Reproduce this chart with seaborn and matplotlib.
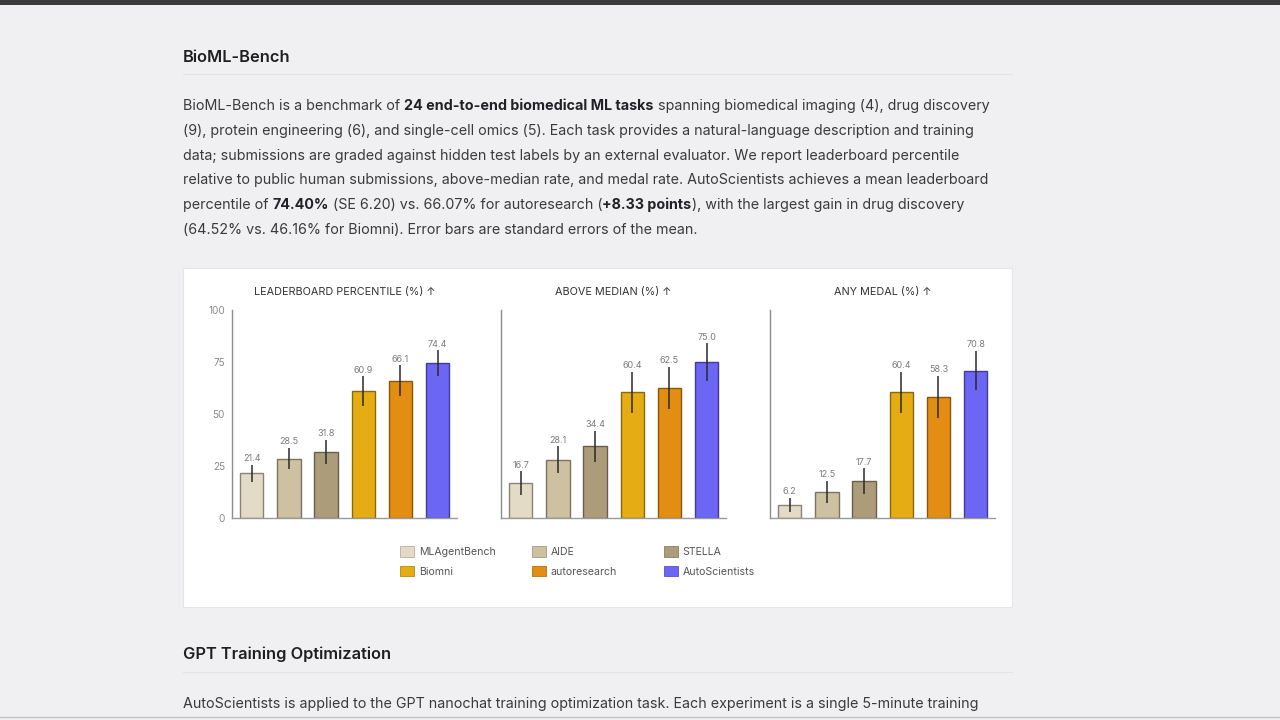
import numpy as np
import pandas as pd
import seaborn as sns
import matplotlib.pyplot as plt
from matplotlib.patches import Patch, Rectangle
from matplotlib.font_manager import FontProperties
from matplotlib.colors import to_rgb

# Data
methods = ["MLAgentBench", "AIDE", "STELLA", "Biomni", "autoresearch", "AutoScientists"]
colors = ["#e3dbc6", "#cdc1a2", "#ad9c7a", "#e5ad13", "#e38d13", "#6b66f4"]

leaderboard = [21.4, 28.5, 31.8, 60.9, 66.1, 74.4]
leaderboard_se = [4.3, 5.1, 5.9, 7.2, 7.3, 6.2]
above_median = [16.7, 28.1, 34.4, 60.4, 62.5, 75.0]
above_median_se = [5.7, 6.4, 7.4, 10.0, 10.1, 9.0]
any_medal = [6.2, 12.5, 17.7, 60.4, 58.3, 70.8]
any_medal_se = [3.5, 5.3, 6.1, 9.9, 10.2, 9.5]

panel_titles = ["LEADERBOARD PERCENTILE (%) \u2191", "ABOVE MEDIAN (%) \u2191", "ANY MEDAL (%) \u2191"]
y_ticks = [0, 25, 50, 75, 100]

heading_1 = "BioML-Bench"
paragraph_1 = [
    [("BioML-Bench is a benchmark of ", False), ("24 end-to-end biomedical ML tasks", True),
     (" spanning biomedical imaging (4), drug discovery", False)],
    [("(9), protein engineering (6), and single-cell omics (5). Each task provides a natural-language description and training", False)],
    [("data; submissions are graded against hidden test labels by an external evaluator. We report leaderboard percentile", False)],
    [("relative to public human submissions, above-median rate, and medal rate. AutoScientists achieves a mean leaderboard", False)],
    [("percentile of ", False), ("74.40%", True), (" (SE 6.20) vs. 66.07% for autoresearch (", False),
     ("+8.33 points", True), ("), with the largest gain in drug discovery", False)],
    [("(64.52% vs. 46.16% for Biomni). Error bars are standard errors of the mean.", False)],
]
heading_2 = "GPT Training Optimization"
paragraph_2 = [
    [("AutoScientists is applied to the GPT nanochat training optimization task. Each experiment is a single 5-minute training", False)],
]

metrics = {
    panel_titles[0]: (leaderboard, leaderboard_se),
    panel_titles[1]: (above_median, above_median_se),
    panel_titles[2]: (any_medal, any_medal_se),
}
rows = []
for title, (vals, ses) in metrics.items():
    for m, v, s in zip(methods, vals, ses):
        rows.append({"metric": title, "method": m, "value": v, "se": s})
df = pd.DataFrame(rows)

W, H = 1280, 720
FONT = ["Inter", "DejaVu Sans"]
plt.rcParams["font.family"] = FONT


def fx(x):
    return x / W


def fy(y):
    return 1 - y / H


def darker(c, f=0.6):
    r, g, b = to_rgb(c)
    return (r * f, g * f, b * f)


fig = plt.figure(figsize=(12.8, 7.2), dpi=100)
fig.patch.set_facecolor("#f0f0f2")

# top browser bar, white card and page rules (kept behind the axes)
fig.patches.append(Rectangle((0, fy(5)), 1, 5 / H, transform=fig.transFigure,
                             facecolor="#3c3c3c", edgecolor="none", zorder=-2))
fig.patches.append(Rectangle((fx(183), fy(607)), 829 / W, 339 / H, transform=fig.transFigure,
                             facecolor="white", edgecolor="#e6e6e9", linewidth=0.8, zorder=-2))
for yy in [74, 672]:
    fig.add_artist(plt.Line2D([fx(183), fx(1012)], [fy(yy), fy(yy)], color="#e4e4e7",
                              linewidth=0.8, zorder=-1))
fig.add_artist(plt.Line2D([0, 1], [fy(717), fy(717)], color="#c2c2c6", linewidth=1, zorder=-1))

renderer = fig.canvas.get_renderer()


def text_width(s, fp):
    w1, _, _ = renderer.get_text_width_height_descent("x" + s + "x", fp, ismath=False)
    w2, _, _ = renderer.get_text_width_height_descent("xx", fp, ismath=False)
    return w1 - w2


def draw_runs(x, y, runs, size, color="#3a3a3c", bold_color="#222226"):
    for s, bold in runs:
        fp = FontProperties(family=FONT, size=size, weight="bold" if bold else "normal")
        fig.text(fx(x), fy(y), s, fontproperties=fp, color=bold_color if bold else color,
                 va="baseline", ha="left")
        x += text_width(s, fp)


# headings and paragraphs
fig.text(fx(183), fy(62), heading_1, fontsize=11.8, fontweight="semibold", color="#1f1f22", va="baseline")
for i, runs in enumerate(paragraph_1):
    draw_runs(183, 110 + i * 24.8, runs, 10.3)
fig.text(fx(183), fy(659), heading_2, fontsize=11.8, fontweight="semibold", color="#1f1f22", va="baseline")
for i, runs in enumerate(paragraph_2):
    draw_runs(183, 708 + i * 24.8, runs, 10.3)

# chart panels
lefts = [232, 501, 770]
for k, title in enumerate(panel_titles):
    ax = fig.add_axes([fx(lefts[k]), fy(518), 225 / W, 208 / H])
    ax.set_facecolor("none")
    sub = df[df["metric"] == title]
    sns.barplot(data=sub, x="method", y="value", hue="method", order=methods, hue_order=methods,
                palette=colors, saturation=1, width=0.63, legend=False, ax=ax, linewidth=1.0,
                errorbar=None)
    for p, c in zip(ax.patches, colors):
        p.set_edgecolor(darker(c))
    xs = np.arange(len(methods))
    ax.errorbar(xs, sub["value"], yerr=sub["se"], fmt="none", ecolor="#2a2a2a",
                elinewidth=1.1, capsize=0, zorder=5)
    for xi, v, s in zip(xs, sub["value"], sub["se"]):
        ax.text(xi, v + s + 0.8, f"{v:.1f}", ha="center", va="bottom", fontsize=6.5, color="#7a7a7a")
    ax.set_ylim(0, 100)
    ax.set_xlim(-0.53, 5.52)
    ax.set_xlabel("")
    ax.set_ylabel("")
    ax.set_xticks([])
    ax.set_yticks(y_ticks)
    ax.tick_params(axis="y", length=0, pad=5, labelsize=7.2, labelcolor="#8a8a8a")
    if k > 0:
        ax.set_yticklabels([])
    for side in ["top", "right"]:
        ax.spines[side].set_visible(False)
    ax.spines["left"].set_color("#8c8c8c")
    ax.spines["bottom"].set_color("#9a9a9a")
    ax.spines["left"].set_linewidth(1.0)
    ax.spines["bottom"].set_linewidth(1.0)
    fig.text(fx(lefts[k] + 112.5), fy(295), title, ha="center", va="baseline",
             fontsize=7.8, color="#333336")

# legend: three columns of two entries each
handles = [Patch(facecolor=c, edgecolor=darker(c, 0.8), linewidth=0.6) for c in colors]
col_x = [396, 528, 660]
for j in range(3):
    idx = [j, j + 3]
    fig.legend([handles[i] for i in idx], [methods[i] for i in idx], ncol=1,
               loc="upper left", bbox_to_anchor=(fx(col_x[j]), fy(542)), frameon=False,
               fontsize=7.6, handlelength=1.3, handleheight=1.15, handletextpad=0.45,
               labelspacing=0.85, labelcolor="#555558", borderaxespad=0)

fig.savefig("out.png", dpi=100, facecolor=fig.get_facecolor())
